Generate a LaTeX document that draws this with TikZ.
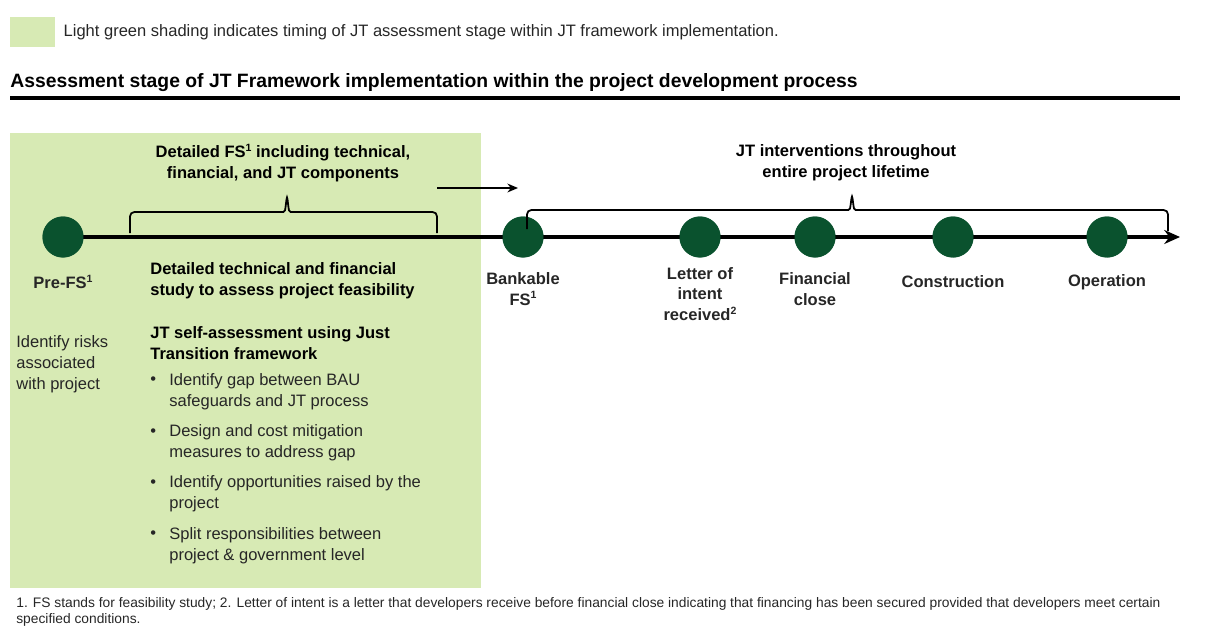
\documentclass[tikz,border=0pt]{standalone}
\usepackage{fontspec}
\setmainfont{Liberation Sans}
\usetikzlibrary{positioning, arrows.meta}
\definecolor{shadegreen}{RGB}{215,234,180}
\definecolor{dotgreen}{RGB}{10,82,46}
\definecolor{txtgrey}{RGB}{38,38,38}
\newcommand{\fnmark}[1]{\raisebox{0.75ex}{\fontsize{6}{6}\selectfont #1}}
\begin{document}
\begin{tikzpicture}[
        x=0.02cm, y=-0.02cm,
        stage/.style={circle, fill=dotgreen, minimum size=0.82cm, inner sep=0pt},
        milestone/.style={font=\bfseries\fontsize{9.4}{11.9}\selectfont, align=center, text=txtgrey},
        body/.style={font=\fontsize{9.4}{11.9}\selectfont, align=left, anchor=west, text=txtgrey, inner sep=0pt},
        heading/.style={font=\bfseries\fontsize{9.4}{11.9}\selectfont, align=left, anchor=west, inner sep=0pt},
        bracelbl/.style={font=\bfseries\fontsize{9.4}{11.9}\selectfont, align=center},
        bracket/.style={line width=1pt, rounded corners=2.5pt}
    ]
        \useasboundingbox (0,0) rectangle (1217,629);

        % legend and title
        \node[fill=shadegreen, minimum width=0.9cm, minimum height=0.6cm, inner sep=0pt] (key) at (32.5,32) {};
        \node[right=0.16cm of key, inner sep=0pt, font=\fontsize{9.4}{11}\selectfont, text=txtgrey] (keytxt)
            {Light green shading indicates timing of JT assessment stage within JT framework implementation.};
        \node[anchor=west, inner sep=0pt, font=\bfseries\fontsize{11}{13}\selectfont] (title) at (10,83)
            {Assessment stage of JT Framework implementation within the project development process};
        \draw[line width=2pt] (10,98) -- (1180,98);

        % assessment stage shading
        \fill[shadegreen] (10,133) rectangle (481,588);

        % timeline
        \coordinate (tlend) at (1180,237);
        \node[stage] (prefs) at (63,237)   {};
        \node[stage] (bfs)   at (523,237)  {};
        \node[stage] (loi)   at (700,237)  {};
        \node[stage] (fc)    at (815,237)  {};
        \node[stage] (cons)  at (953,237)  {};
        \node[stage] (oper)  at (1107,237) {};
        \draw[line width=1.9pt, -{Stealth[length=9pt, width=8pt, inset=3pt]}] (prefs.center) -- (tlend);
        \foreach \s in {prefs, bfs, loi, fc, cons, oper}
            \node[stage] at (\s) {};

        \node[milestone] (prefslbl) at (63,282)   {Pre-FS\fnmark{1}};
        \node[milestone] (bfslbl)   at (523,289)  {Bankable\\FS\fnmark{1}};
        \node[milestone] (loilbl)   at (700,294)  {Letter of\\intent\\received\fnmark{2}};
        \node[milestone] (fclbl)    at (815,289)  {Financial\\close};
        \node[milestone] (conslbl)  at (953,282)  {Construction};
        \node[milestone] (operlbl)  at (1107,282) {Operation};

        % braces
        \coordinate (fsl) at (130,233);
        \coordinate (fsr) at (437,233);
        \draw[bracket] (fsl) -- (130,212) -- (279,212)
            .. controls (285,212) .. (287,195) .. controls (289,212) .. (295,212)
            -- (437,212) -- (fsr);
        \node[bracelbl] (fstxt) at (283,163) {Detailed FS\fnmark{1} including technical,\\financial, and JT components};
        \coordinate (arrl) at (437,188);
        \coordinate (arrr) at (518,188);
        \draw[line width=1.1pt, -{Stealth[length=6pt, width=5pt]}] (arrl) -- (arrr);

        \coordinate (jtl) at (527,229);
        \coordinate (jtr) at (1168,231);
        \draw[bracket] (jtl) -- (527,210) -- (844,210)
            .. controls (850,210) .. (852,194) .. controls (854,210) .. (860,210)
            -- (1168,210) -- (jtr);
        \node[bracelbl] (jttxt) at (846,163) {JT interventions throughout\\entire project lifetime};

        % text below timeline
        \node[body] (risks) at (16,364) {Identify risks\\associated\\with project};
        \node[heading] (study) at (150,280.5) {Detailed technical and financial\\study to assess project feasibility};
        \node[heading] (selfas) at (150,343.5) {JT self-assessment using Just\\Transition framework};
        \foreach \txt [count=\i] in {{Identify gap between BAU\\safeguards and JT process},
                                   {Design and cost mitigation\\measures to address gap},
                                   {Identify opportunities raised by the\\project},
                                   {Split responsibilities between\\project \& government level}} {
            \node[body] (item\i) at (169, {391.5+51.3*(\i-1)}) {\txt};
            \node[body] (dot\i) at (150, {381+51.3*(\i-1)}) {\textbullet};
        }

        % footnote
        \node[anchor=west, inner sep=0pt, align=left, text=txtgrey, font=\fontsize{7.85}{9}\selectfont] (note) at (16,612)
            {1. FS stands for feasibility study; 2. Letter of intent is a letter that developers receive before financial close indicating that financing has been secured provided that developers meet certain\\specified conditions.};
    \end{tikzpicture}
\end{document}
